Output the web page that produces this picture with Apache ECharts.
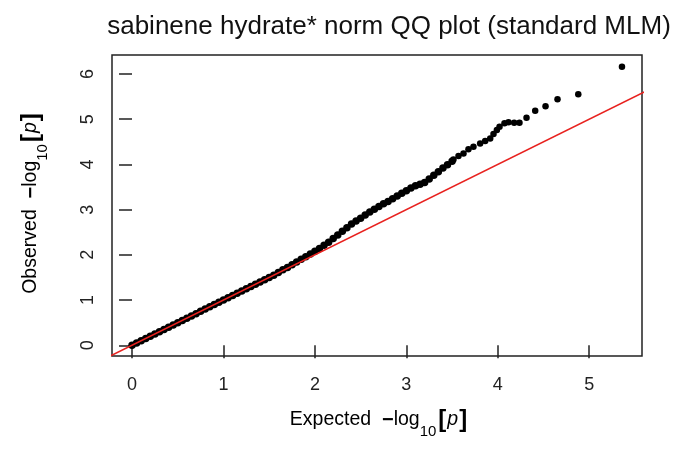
<!DOCTYPE html>
<html>
<head>
<meta charset="utf-8">
<script src="https://cdn.jsdelivr.net/npm/echarts@6/dist/echarts.min.js"></script>
<style>
  html, body { margin: 0; padding: 0; background: #fff; }
  #chart { width: 679px; height: 451px; }
</style>
</head>
<body>
<div id="chart"></div>
<script>
// Expected vs observed -log10(p): the dense body of the distribution
const expectedBody = [
  0.00, 0.05, 0.10, 0.15, 0.20, 0.25, 0.30, 0.35, 0.40, 0.45,
  0.50, 0.55, 0.60, 0.65, 0.70, 0.75, 0.80, 0.85, 0.90, 0.95,
  1.00, 1.05, 1.10, 1.15, 1.20, 1.25, 1.30, 1.35, 1.40, 1.45,
  1.50, 1.55, 1.60, 1.65, 1.70, 1.75, 1.80, 1.85, 1.90, 1.95,
  2.00, 2.05, 2.10, 2.15, 2.20, 2.25, 2.30, 2.35, 2.40, 2.45,
  2.50, 2.55, 2.60, 2.65, 2.70, 2.75, 2.80, 2.85, 2.90, 2.95,
  3.00, 3.05, 3.10, 3.15, 3.20, 3.25, 3.30, 3.35, 3.40, 3.45, 3.50
];
const observedBody = [
  0.00, 0.05, 0.10, 0.15, 0.20, 0.25, 0.30, 0.35, 0.40, 0.45,
  0.50, 0.55, 0.60, 0.65, 0.70, 0.75, 0.80, 0.85, 0.90, 0.95,
  1.00, 1.05, 1.10, 1.15, 1.20, 1.25, 1.30, 1.35, 1.40, 1.45,
  1.50, 1.55, 1.61, 1.67, 1.72, 1.78, 1.84, 1.90, 1.96, 2.02,
  2.08, 2.14, 2.21, 2.28, 2.36, 2.44, 2.52, 2.60, 2.68, 2.75,
  2.81, 2.88, 2.95, 3.01, 3.07, 3.13, 3.18, 3.24, 3.30, 3.36,
  3.42, 3.48, 3.53, 3.56, 3.60, 3.68, 3.76, 3.84, 3.92, 3.99, 4.07
];
// The sparse upper tail
const expectedTail = [
  3.515, 3.570, 3.625, 3.679, 3.734, 3.807, 3.862, 3.917, 3.953, 3.990,
  4.019, 4.073, 4.117, 4.179, 4.237, 4.314, 4.409, 4.522, 4.653, 4.880, 5.358
];
const observedTail = [
  4.111, 4.184, 4.244, 4.333, 4.390, 4.465, 4.516, 4.576, 4.671, 4.760,
  4.833, 4.908, 4.930, 4.921, 4.921, 5.032, 5.187, 5.285, 5.439, 5.550, 6.161
];
// Identity reference line y = x
const refLineX = [-1, 7];
const refLineY = [-1, 7];
const xTicks = [0, 1, 2, 3, 4, 5];
const yTicks = [0, 1, 2, 3, 4, 5, 6];

const titleText = 'sabinene hydrate* norm QQ plot (standard MLM)';
const font = '"Liberation Sans", Arial, sans-serif';

const bodyPts = expectedBody.map((x, i) => [x, observedBody[i]]);
const tailPts = expectedTail.map((x, i) => [x, observedTail[i]]);
const ref = refLineX.map((x, i) => [x, refLineY[i]]);

const ink = '#111';
const labelRich = {
  n: { fontSize: 19.5, fontFamily: font, color: ink, lineHeight: 26, verticalAlign: 'middle' },
  m: { fontSize: 20, fontFamily: font, color: ink, fontWeight: 'bold', lineHeight: 26, verticalAlign: 'middle' },
  s: { fontSize: 15, fontFamily: font, color: ink, lineHeight: 26, verticalAlign: 'bottom', padding: [0, 1, -6, 0] },
  b: { fontSize: 24, fontFamily: font, color: ink, fontWeight: 900, lineHeight: 26, verticalAlign: 'middle', padding: [0, 1, 0, 1] },
  p: { fontSize: 19.5, fontFamily: font, color: ink, fontStyle: 'italic', lineHeight: 26, verticalAlign: 'middle' }
};
function axisTitle(word) {
  return '{n|' + word + '  }{m|−}{n|log}{s|10}{b|[}{p|p}{b|]}';
}

const chart = echarts.init(document.getElementById('chart'));
chart.setOption({
  animation: false,
  backgroundColor: '#fff',
  title: {
    text: titleText,
    left: 384,
    top: 9,
    textAlign: 'center',
    textStyle: { fontFamily: font, fontSize: 26, fontWeight: 'normal', color: ink }
  },
  grid: {
    left: 112, top: 55, width: 530, height: 301,
    show: true, borderColor: '#222', borderWidth: 1.5, backgroundColor: 'transparent'
  },
  xAxis: {
    type: 'value', min: -0.219, max: 5.577,
    axisLine: { show: false },
    splitLine: { show: false },
    axisTick: { show: true, customValues: xTicks, length: 13, lineStyle: { color: '#222', width: 1.5 } },
    axisLabel: { customValues: xTicks, fontSize: 18, fontFamily: font, color: '#222', margin: 20 }
  },
  yAxis: {
    type: 'value', min: -0.237, max: 6.42,
    axisLine: { show: false },
    splitLine: { show: false },
    axisTick: { show: true, customValues: yTicks, length: 13, lineStyle: { color: '#222', width: 1.5 } },
    axisLabel: { customValues: yTicks, rotate: 90, fontSize: 18, fontFamily: font, color: '#222', margin: 15 }
  },
  graphic: [
    {
      type: 'text', x: 379, y: 420, z: 10,
      style: { text: axisTitle('Expected'), rich: labelRich, align: 'center', verticalAlign: 'middle' }
    },
    {
      type: 'text', x: 31, y: 203, rotation: Math.PI / 2, z: 10,
      style: { text: axisTitle('Observed'), rich: labelRich, align: 'center', verticalAlign: 'middle' }
    }
  ],
  series: [
    {
      type: 'scatter', data: bodyPts, symbol: 'circle', symbolSize: 7.5,
      itemStyle: { color: '#000', opacity: 1 }, z: 2
    },
    {
      type: 'scatter', data: tailPts, symbol: 'circle', symbolSize: 6.5,
      itemStyle: { color: '#000', opacity: 1 }, z: 2
    },
    {
      type: 'line', data: ref, showSymbol: false, clip: true,
      lineStyle: { color: '#e8221f', width: 1.6 }, z: 3
    }
  ]
});
</script>
</body>
</html>
